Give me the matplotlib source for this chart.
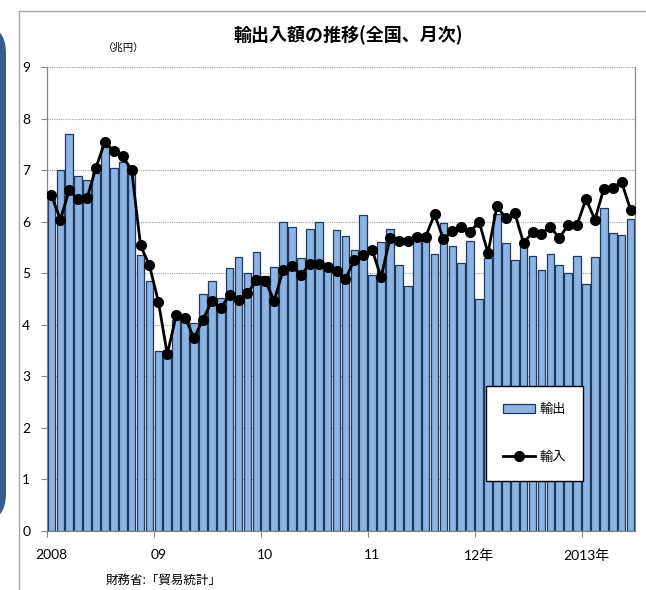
import numpy as np
import matplotlib
matplotlib.use("Agg")
import matplotlib.pyplot as plt
from matplotlib.lines import Line2D
from matplotlib.patches import Patch, FancyBboxPatch

plt.rcParams['font.family'] = ['Lato', 'Noto Sans CJK JP', 'DejaVu Sans']

# monthly values, Jan 2008 - Jun 2013 (trillion yen)
exports = [6.45, 7.00, 7.70, 6.89, 6.81, 6.95, 7.45, 7.05, 7.15, 6.95, 5.35, 4.85,
           3.49, 3.52, 4.10, 4.15, 4.04, 4.60, 4.84, 4.51, 5.10, 5.31, 5.00, 5.41,
           4.95, 5.12, 6.00, 5.89, 5.30, 5.86, 6.00, 5.15, 5.84, 5.73, 5.45, 6.13,
           4.96, 5.61, 5.86, 5.15, 4.76, 5.65, 5.65, 5.37, 5.97, 5.52, 5.20, 5.63,
           4.50, 5.30, 6.15, 5.58, 5.25, 5.50, 5.33, 5.07, 5.37, 5.16, 5.00, 5.33,
           4.80, 5.31, 6.27, 5.78, 5.75, 6.06]
imports = [6.51, 6.04, 6.61, 6.43, 6.46, 7.05, 7.55, 7.37, 7.27, 7.00, 5.54, 5.15,
           4.45, 3.43, 4.18, 4.14, 3.74, 4.10, 4.46, 4.33, 4.57, 4.48, 4.61, 4.86,
           4.85, 4.47, 5.06, 5.14, 4.97, 5.17, 5.17, 5.12, 5.04, 4.89, 5.26, 5.36,
           5.45, 4.92, 5.68, 5.63, 5.63, 5.70, 5.71, 6.14, 5.66, 5.81, 5.89, 5.80,
           6.00, 5.39, 6.30, 6.07, 6.17, 5.58, 5.80, 5.77, 5.90, 5.68, 5.94, 5.94,
           6.44, 6.04, 6.64, 6.66, 6.77, 6.23]
year_labels = ['2008', '09', '10', '11', '12年', '2013年']

W, H = 646, 590
fig = plt.figure(figsize=(W / 100, H / 100), dpi=100)


def fx(px):
    return px / W


def fy(py):
    return 1 - py / H


# frame lines and the blue side shape
fig.add_artist(Line2D([fx(19), 1], [fy(11), fy(11)], color='#a6a6a6', lw=1))
fig.add_artist(Line2D([fx(19), fx(19)], [fy(11), 0], color='#a6a6a6', lw=1))
fig.add_artist(FancyBboxPatch((fx(-30), fy(522)), fx(36), fy(25) - fy(522),
                              boxstyle='round,pad=0,rounding_size=0.04',
                              transform=fig.transFigure, facecolor='#385d8a',
                              edgecolor='none', mutation_aspect=1.2))

ax = fig.add_axes([fx(47), fy(531), fx(635) - fx(47), fy(67) - fy(531)])

n = len(exports)
x = np.arange(n)
ax.bar(x, exports, width=0.86, color='#8db4e2', edgecolor='#1f3a5f', linewidth=0.9,
       zorder=2)
ax.plot(x, imports, color='black', lw=2.0, marker='o', markersize=7, zorder=3)

ax.set_xlim(-0.5, n - 0.5)
ax.set_ylim(0, 9)
ax.set_yticks(range(0, 10))
ax.tick_params(axis='y', labelsize=10, length=4, width=0.8, color='#868686', pad=8)
ax.yaxis.grid(True, linestyle=(0, (1, 1)), color='#a0a0a0', lw=0.8)
ax.set_axisbelow(True)

# year boundaries as ticks, labels centred on January
ax.set_xticks(np.arange(-0.5, n, 12))
ax.set_xticklabels([])
ax.tick_params(axis='x', length=4, width=0.8, color='#868686')
ax.set_xticks(np.arange(0, n, 12), minor=True)
ax.set_xticklabels(year_labels, minor=True, fontsize=10)
ax.tick_params(axis='x', which='minor', length=0, pad=13)

for s in ['left', 'bottom', 'right']:
    ax.spines[s].set_color('#868686')
    ax.spines[s].set_linewidth(0.9)
ax.spines['top'].set_visible(False)

fig.text(fx(348), fy(35), '輸出入額の推移(全国、月次)', ha='center', va='center',
         fontsize=13, fontweight='bold', family=['Noto Sans CJK JP'])
fig.text(fx(124), fy(48), '（兆円）', ha='center', va='center', fontsize=7.5,
         family=['Noto Sans CJK JP'])
fig.text(fx(164), fy(580), '財務省:「貿易統計」', ha='center', va='center', fontsize=9,
         family=['Noto Sans CJK JP'])

handles = [Patch(facecolor='#8db4e2', edgecolor='#1f3a5f', linewidth=0.9),
           Line2D([], [], color='black', lw=2.0, marker='o', markersize=7)]
leg = ax.legend(handles, ['輸出', '輸入'], loc='center',
                bbox_to_anchor=(fx(534.5), fy(433.5)), bbox_transform=fig.transFigure,
                fancybox=False, framealpha=1, edgecolor='black', fontsize=9.5,
                labelspacing=2.6, borderpad=1.3, handlelength=2.4, handletextpad=0.3,
                prop={'family': ['Noto Sans CJK JP'], 'size': 9.5})
leg.get_frame().set_linewidth(1.0)

fig.savefig('out.png', dpi=100)
